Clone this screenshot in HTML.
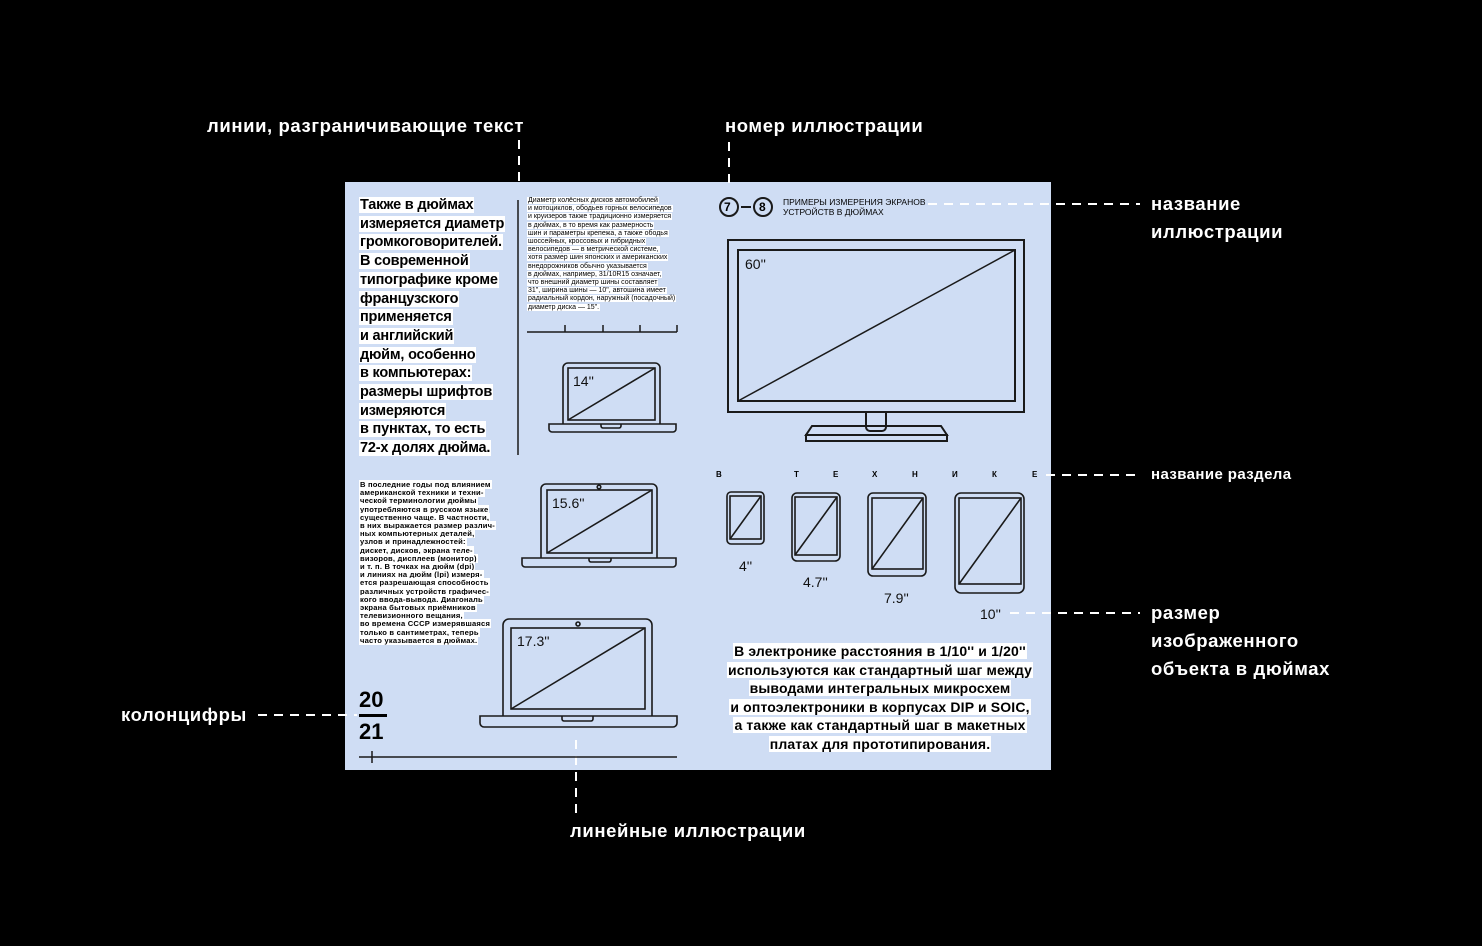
<!DOCTYPE html>
<html><head><meta charset="utf-8">
<style>
body{margin:0;width:1482px;height:946px;background:#000;position:relative;overflow:hidden;font-family:"Liberation Sans","DejaVu Sans",sans-serif}
.a{position:absolute;color:#fff;font-weight:bold;font-size:18.5px;white-space:nowrap;line-height:28px;letter-spacing:0.6px}
.p{position:absolute;left:345px;top:182px;width:706px;height:588px;background:#cfddf4}
.t{position:absolute;white-space:nowrap;color:#000;font-weight:bold}
.t span{background:#fff;-webkit-box-decoration-break:clone;box-decoration-break:clone;padding:0 1px}
svg{position:absolute;left:0;top:0}
.l{position:absolute;font-size:14px;color:#111;white-space:nowrap}
</style></head><body>
<div class="p"></div>
<svg width="1482" height="946" fill="none" stroke="#1a1a1a" stroke-width="2">
<g stroke="#fff" stroke-width="2" stroke-dasharray="9,7">
<line x1="519" y1="140" x2="519" y2="186"/>
<line x1="729" y1="142" x2="729" y2="190"/>
<line x1="928" y1="204" x2="1140" y2="204"/>
<line x1="1046" y1="475" x2="1140" y2="475"/>
<line x1="1010" y1="613" x2="1140" y2="613"/>
<line x1="258" y1="715" x2="357" y2="715"/>
<line x1="576" y1="740" x2="576" y2="820"/>
</g>
<line x1="518" y1="200" x2="518" y2="455" stroke-width="1.5"/>
<path d="M527 332H677M565 332v-7M603 332v-7M640 332v-7M677 332v-7" stroke-width="1.5"/>
<path d="M359 757H677M372 751v12" stroke-width="1.5"/>
<rect x="728" y="240" width="296" height="172"/>
<rect x="738" y="250" width="277" height="151"/>
<line x1="738" y1="401" x2="1015" y2="250" stroke-width="1.5"/>
<path d="M866 412v15a4 4 0 0 0 4 4h12a4 4 0 0 0 4-4v-15"/>
<path d="M812 426h129l6 9H806z"/><rect x="806" y="435" width="141" height="6"/>
<g stroke-width="1.6">
<path d="M563 424v-56a5 5 0 0 1 5-5h87a5 5 0 0 1 5 5v56"/>
<rect x="568" y="368" width="87" height="52"/><line x1="568" y1="420" x2="655" y2="368"/>
<path d="M549 424h127v5a3 3 0 0 1-3 3H552a3 3 0 0 1-3-3z"/><path d="M601 424v2a2 2 0 0 0 2 2h16a2 2 0 0 0 2-2v-2"/>
<path d="M541 558v-69a5 5 0 0 1 5-5h106a5 5 0 0 1 5 5v69"/>
<rect x="547" y="490" width="105" height="63"/><line x1="547" y1="553" x2="652" y2="490"/>
<circle cx="599" cy="487" r="1.8"/>
<path d="M522 558h154v6a3 3 0 0 1-3 3H525a3 3 0 0 1-3-3z"/><path d="M589 558v2a2 2 0 0 0 2 2h18a2 2 0 0 0 2-2v-2"/>
<path d="M503 716v-91a6 6 0 0 1 6-6h137a6 6 0 0 1 6 6v91"/>
<rect x="511" y="628" width="134" height="81"/><line x1="511" y1="709" x2="645" y2="628"/>
<circle cx="578" cy="624" r="2"/>
<path d="M480 716h197v7a4 4 0 0 1-4 4H484a4 4 0 0 1-4-4z"/><path d="M562 716v3a2 2 0 0 0 2 2h27a2 2 0 0 0 2-2v-3"/>
</g>
<g stroke-width="1.6">
<rect x="727" y="492" width="37" height="52" rx="4"/><rect x="730" y="496" width="31" height="43"/><line x1="730" y1="539" x2="761" y2="496"/>
<rect x="792" y="493" width="48" height="68" rx="5"/><rect x="795" y="497" width="42" height="58"/><line x1="795" y1="555" x2="837" y2="497"/>
<rect x="868" y="493" width="58" height="83" rx="5"/><rect x="872" y="498" width="51" height="71"/><line x1="872" y1="569" x2="923" y2="498"/>
<rect x="955" y="493" width="69" height="100" rx="6"/><rect x="959" y="498" width="62" height="86"/><line x1="959" y1="584" x2="1021" y2="498"/>
</g>
<circle cx="729" cy="207" r="9" stroke-width="2"/><circle cx="763" cy="207" r="9" stroke-width="2"/>
<line x1="741" y1="207" x2="751" y2="207" stroke-width="2"/>
</svg>
<div class="t" style="left:724px;top:200px;font-size:12px;line-height:14px">7</div>
<div class="t" style="left:759px;top:200px;font-size:12px;line-height:14px">8</div>
<div class="t" style="left:783px;top:197px;font-size:8.5px;line-height:10px;font-weight:normal">ПРИМЕРЫ ИЗМЕРЕНИЯ ЭКРАНОВ<br>УСТРОЙСТВ В ДЮЙМАХ</div>

<div class="l" style="left:745px;top:256px">60''</div>
<div class="l" style="left:573px;top:373px">14''</div>
<div class="l" style="left:552px;top:495px">15.6''</div>
<div class="l" style="left:517px;top:633px">17.3''</div>
<div class="l" style="left:739px;top:558px">4''</div>
<div class="l" style="left:803px;top:574px">4.7''</div>
<div class="l" style="left:884px;top:590px">7.9''</div>
<div class="l" style="left:980px;top:606px">10''</div>

<div class="t" style="left:716px;top:470px;font-size:8px;line-height:10px">В</div>
<div class="t" style="left:794px;top:470px;font-size:8px">Т</div>
<div class="t" style="left:833px;top:470px;font-size:8px">Е</div>
<div class="t" style="left:872px;top:470px;font-size:8px">Х</div>
<div class="t" style="left:912px;top:470px;font-size:8px">Н</div>
<div class="t" style="left:952px;top:470px;font-size:8px">И</div>
<div class="t" style="left:992px;top:470px;font-size:8px">К</div>
<div class="t" style="left:1032px;top:470px;font-size:8px">Е</div>

<div class="t" style="left:359px;top:196px;font-size:14.5px;line-height:18.7px;letter-spacing:-0.2px"><span>Также в дюймах<br>измеряется диаметр<br>громкоговорителей.<br>В современной<br>типографике кроме<br>французского<br>применяется<br>и английский<br>дюйм, особенно<br>в компьютерах:<br>размеры шрифтов<br>измеряются<br>в пунктах, то есть<br>72-х долях дюйма.</span></div>

<div class="t" style="left:527px;top:197px;font-size:7px;line-height:8.2px;font-weight:normal"><span>Диаметр колёсных дисков автомобилей<br>и мотоциклов, ободьев горных велосипедов<br>и круизеров также традиционно измеряется<br>в дюймах, в то время как размерность<br>шин и параметры крепежа, а также ободья<br>шоссейных, кроссовых и гибридных<br>велосипедов — в метрической системе,<br>хотя размер шин японских и американских<br>внедорожников обычно указывается<br>в дюймах, например, 31/10R15 означает,<br>что внешний диаметр шины составляет<br>31", ширина шины — 10", автошина имеет<br>радиальный кордон, наружный (посадочный)<br>диаметр диска — 15".</span></div>

<div class="t" style="left:359px;top:481px;font-size:7.6px;line-height:8.2px;letter-spacing:0.2px"><span>В последние годы под влиянием<br>американской техники и техни-<br>ческой терминологии дюймы<br>употребляются в русском языке<br>существенно чаще. В частности,<br>в них выражается размер различ-<br>ных компьютерных деталей,<br>узлов и принадлежностей:<br>дискет, дисков, экрана теле-<br>визоров, дисплеев (монитор)<br>и т. п. В точках на дюйм (dpi)<br>и линиях на дюйм (lpi) измеря-<br>ется разрешающая способность<br>различных устройств графичес-<br>кого ввода-вывода. Диагональ<br>экрана бытовых приёмников<br>телевизионного вещания,<br>во времена СССР измерявшаяся<br>только в сантиметрах, теперь<br>часто указывается в дюймах.</span></div>

<div class="t" style="left:359px;top:688px;font-size:22px;line-height:24px">20</div>
<div style="position:absolute;left:359px;top:714px;width:28px;height:3px;background:#000"></div>
<div class="t" style="left:359px;top:720px;font-size:22px;line-height:24px">21</div>

<div class="t" style="left:715px;top:642px;width:330px;text-align:center;font-size:14px;line-height:18.5px;letter-spacing:0.15px"><span>В электронике расстояния в 1/10'' и 1/20''<br>используются как стандартный шаг между<br>выводами интегральных микросхем<br>и оптоэлектроники в корпусах DIP и SOIC,<br>а также как стандартный шаг в макетных<br>платах для прототипирования.</span></div>

<div class="a" style="left:207px;top:112px">линии, разграничивающие текст</div>
<div class="a" style="left:725px;top:112px">номер иллюстрации</div>
<div class="a" style="left:1151px;top:190px">название<br>иллюстрации</div>
<div class="a" style="left:1151px;top:461px;font-size:15px;letter-spacing:0.4px">название раздела</div>
<div class="a" style="left:1151px;top:599px">размер<br>изображенного<br>объекта в дюймах</div>
<div class="a" style="left:121px;top:701px">колонцифры</div>
<div class="a" style="left:570px;top:817px">линейные иллюстрации</div>
</body></html>
